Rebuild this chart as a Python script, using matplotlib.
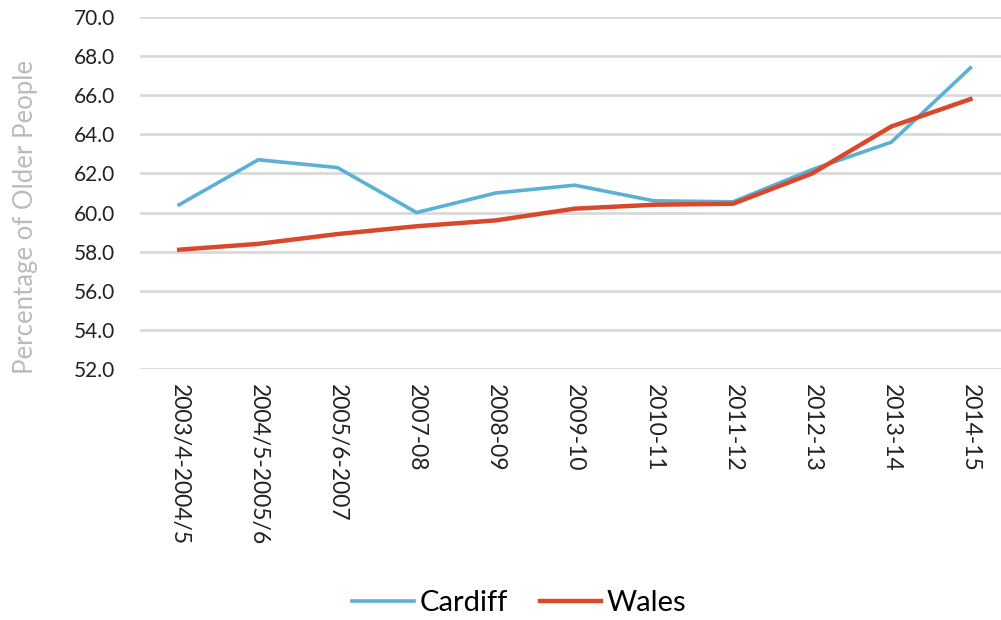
import numpy as np
import matplotlib.pyplot as plt

# data
years = ["2003/4-2004/5", "2004/5-2005/6", "2005/6-2007", "2007-08", "2008-09",
         "2009-10", "2010-11", "2011-12", "2012-13", "2013-14", "2014-15"]
cardiff = [60.4, 62.7, 62.3, 60.0, 61.0, 61.4, 60.6, 60.55, 62.2, 63.6, 67.4]
wales = [58.1, 58.4, 58.9, 59.3, 59.6, 60.2, 60.4, 60.45, 62.0, 64.4, 65.8]

plt.rcParams['font.family'] = ['Lato', 'DejaVu Sans']

fig = plt.figure(figsize=(10.01, 6.2), dpi=100)
ax = fig.add_axes([0.1395, 0.4048, 0.8695, 0.5678])

x = np.arange(len(years))
ax.plot(x, cardiff, color="#5BB0D5", lw=2.6, label="Cardiff")
ax.plot(x, wales, color="#D9482B", lw=3.2, label="Wales")

ax.set_xlim(-0.5, len(years) - 0.5)
ax.set_ylim(52, 70)
ax.set_yticks(np.arange(52, 70.1, 2))
ax.set_yticklabels([f"{v:.1f}" for v in np.arange(52, 70.1, 2)], fontsize=15, color="#222222")
ax.set_xticks(x)
ax.set_xticklabels(years, rotation=-90, fontsize=16.5, color="#222222", va="top")
ax.tick_params(length=0)
ax.tick_params(axis="y", pad=18)
ax.tick_params(axis="x", pad=11)
ax.grid(axis="y", color="#D9D9D9", lw=2)
ax.set_axisbelow(True)
for s in ax.spines.values():
    s.set_visible(False)

fig.text(0.025, 0.65, "Percentage of Older People", rotation=90, fontsize=18.5,
         color="#BBBBBB", ha="center", va="center")

fig.legend(loc="center", bbox_to_anchor=(0.519, 0.027), ncol=2, frameon=False,
           fontsize=21, handlelength=2.1, handletextpad=0.2, columnspacing=1.1)

fig.savefig("out.png", dpi=100)
